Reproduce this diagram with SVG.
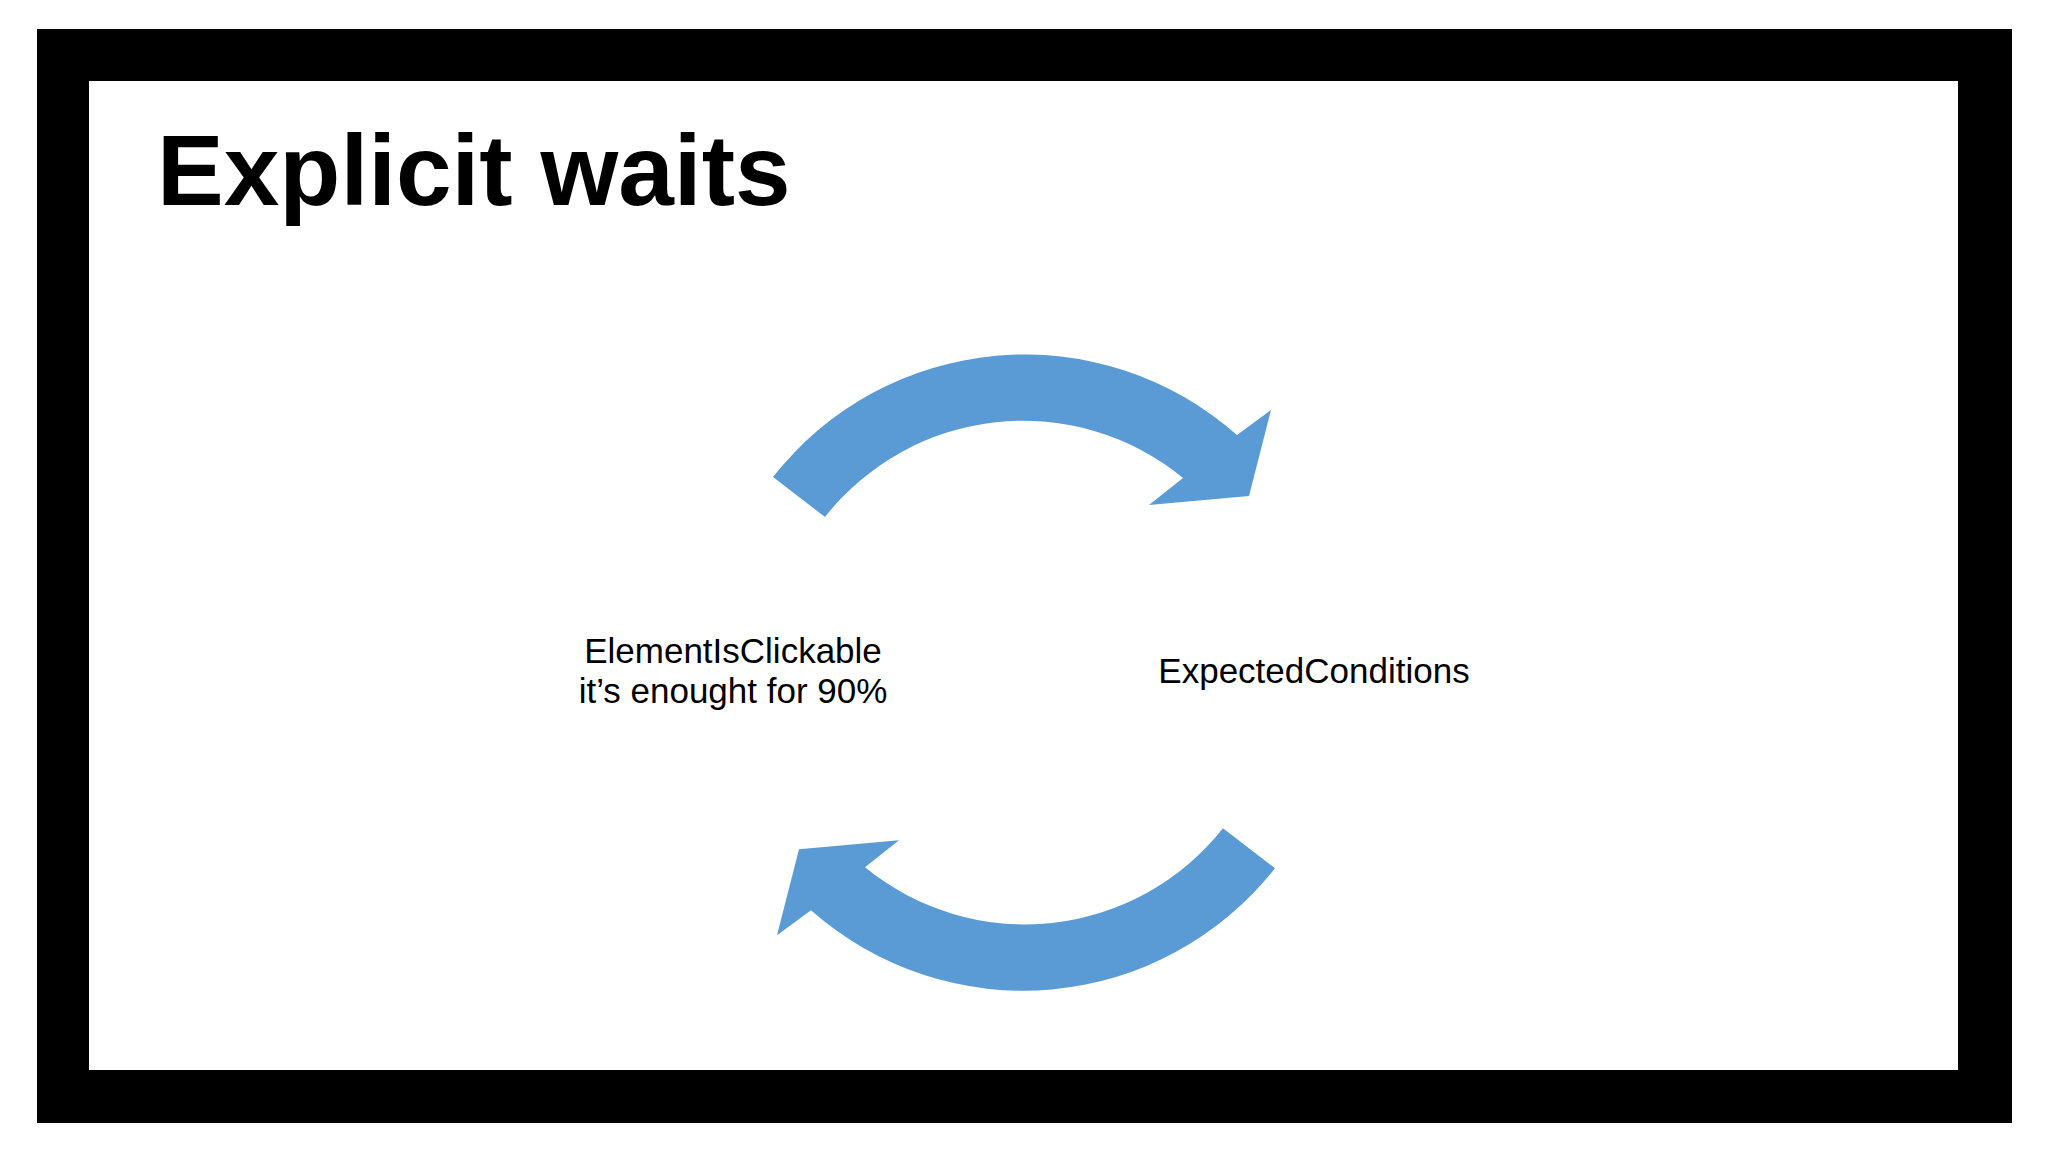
<svg xmlns="http://www.w3.org/2000/svg" width="2048" height="1152" viewBox="0 0 2048 1152">
<style>
.lbl{font-family:"Liberation Sans",Arial,sans-serif;font-size:35px;fill:#000;text-anchor:middle}
.arr{fill:#5B9BD5}
</style>
<rect x="0" y="0" width="2048" height="1152" fill="#fff"/>
<rect x="37" y="29" width="1975" height="1094" fill="#000"/>
<rect x="89" y="81" width="1869" height="989" fill="#fff"/>
<text x="157" y="205" font-family="Liberation Sans,Arial,sans-serif" font-weight="bold" font-size="100">Explicit waits</text>
<g id="connectors">
<path id="arrow-top" class="arr" d="M773 477 A320 320 0 0 1 1237 435 L1271 410 L1249 496 L1149 505 L1183 478 A252 252 0 0 0 825 517 Z"/>
<path id="arrow-bottom" class="arr" transform="rotate(180 1024 672.6)" d="M773 477 A320 320 0 0 1 1237 435 L1271 410 L1249 496 L1149 505 L1183 478 A252 252 0 0 0 825 517 Z"/>
</g>
<g id="node-left">
<text class="lbl" x="733" y="663">ElementIsClickable</text>
<text class="lbl" x="733" y="703">it’s enought for 90%</text>
</g>
<g id="node-right">
<text class="lbl" x="1314" y="683">ExpectedConditions</text>
</g>
</svg>
